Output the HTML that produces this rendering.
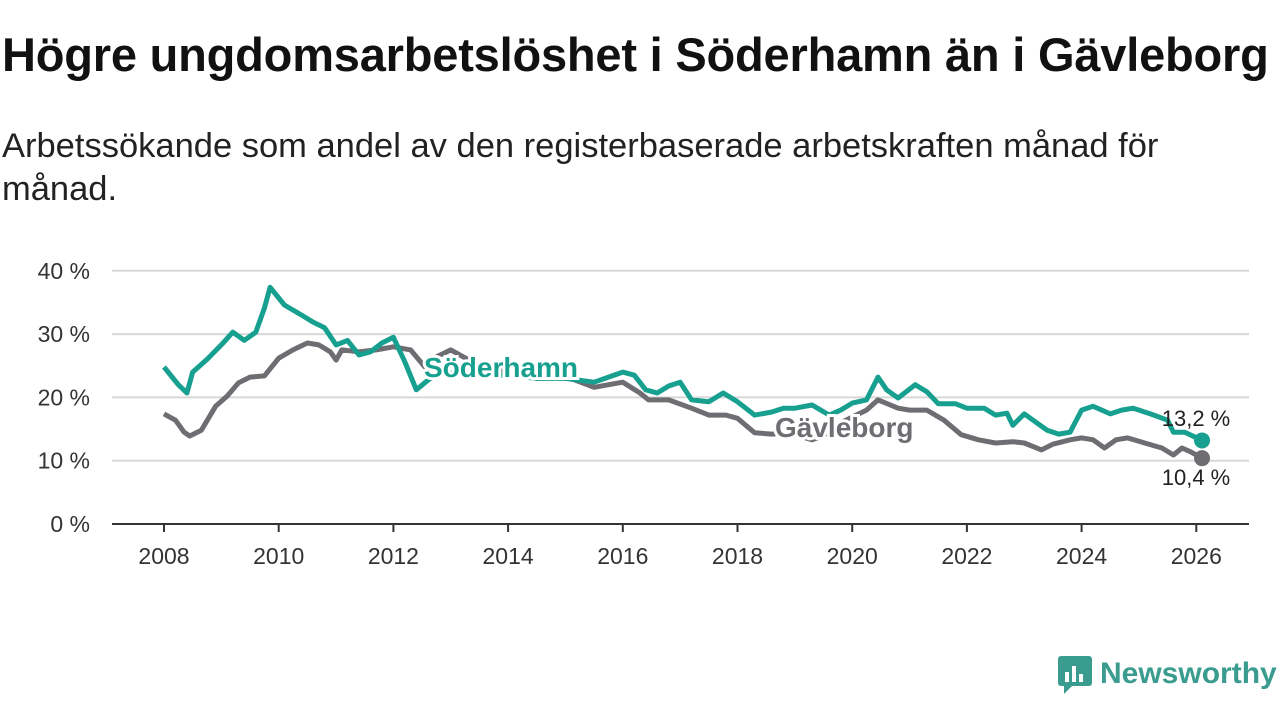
<!DOCTYPE html>
<html><head><meta charset="utf-8"><style>
body{margin:0;width:1280px;height:720px;background:#fff;font-family:"Liberation Sans","DejaVu Sans",sans-serif;overflow:hidden;position:relative}
h1{position:absolute;left:2px;top:27px;margin:0;font-size:47px;font-weight:bold;color:#111;letter-spacing:-0.2px;white-space:nowrap}
.sub{position:absolute;left:2px;top:125px;margin:0;font-size:34.5px;line-height:43px;color:#222;width:1200px}
svg{position:absolute;left:0;top:0}
.logo{position:absolute;left:1058px;top:654px;display:flex;align-items:center;color:#3a9c8f;font-size:30px;font-weight:bold}
</style></head><body>
<h1>Högre ungdomsarbetslöshet i Söderhamn än i Gävleborg</h1>
<p class="sub">Arbetssökande som andel av den registerbaserade arbetskraften månad för månad.</p>
<svg id="chart" width="1280" height="720"></svg>
<div class="logo"><svg width="36" height="40" viewBox="0 0 36 40" style="position:static;margin-right:6px"><rect x="0" y="2" width="34" height="30" rx="3" fill="#3a9c8f"/><polygon points="6,32 14,32 6,40" fill="#3a9c8f"/><rect x="7" y="18" width="4" height="10" fill="#fff"/><rect x="14" y="12" width="4" height="16" fill="#fff"/><rect x="21" y="20" width="4" height="8" fill="#fff"/></svg>Newsworthy</div>
<script>
const sodT=[2008.0,2008.25,2008.4,2008.5,2008.75,2009.0,2009.2,2009.4,2009.6,2009.75,2009.85,2010.1,2010.4,2010.6,2010.8,2011.0,2011.2,2011.4,2011.6,2011.8,2012.0,2012.2,2012.4,2012.6,2012.8,2013.5,2014.0,2014.5,2015.0,2015.5,2016.0,2016.2,2016.4,2016.6,2016.8,2017.0,2017.2,2017.5,2017.75,2018.0,2018.3,2018.6,2018.8,2019.0,2019.3,2019.6,2019.8,2020.0,2020.25,2020.45,2020.6,2020.8,2021.1,2021.3,2021.5,2021.8,2022.0,2022.3,2022.5,2022.7,2022.8,2023.0,2023.4,2023.6,2023.8,2024.0,2024.2,2024.5,2024.7,2024.9,2025.2,2025.5,2025.6,2025.8,2026.1];
const sodV=[24.8,22,20.7,24,26,28.3,30.3,29,30.3,34.1,37.4,34.6,33,31.9,31,28.3,29,26.7,27.2,28.6,29.5,25.6,21.2,22.7,24,23.5,23.5,23,23,22.4,24,23.5,21.2,20.7,21.8,22.4,19.6,19.3,20.7,19.3,17.2,17.7,18.3,18.3,18.8,17.2,18,19.1,19.6,23.2,21.2,19.9,22,20.9,19,19,18.3,18.3,17.2,17.5,15.6,17.4,14.8,14.2,14.5,18,18.6,17.4,18,18.3,17.4,16.4,14.5,14.5,13.2];
const gavT=[2008.0,2008.2,2008.35,2008.45,2008.65,2008.9,2009.1,2009.3,2009.5,2009.75,2010.0,2010.25,2010.5,2010.7,2010.9,2011.0,2011.1,2011.4,2011.7,2012.0,2012.3,2012.55,2012.7,2013.0,2013.5,2014.0,2014.5,2015.0,2015.5,2016.0,2016.3,2016.45,2016.8,2017.2,2017.5,2017.8,2018.0,2018.3,2018.6,2018.9,2019.3,2019.5,2019.8,2020.25,2020.45,2020.8,2021.0,2021.3,2021.6,2021.9,2022.2,2022.5,2022.8,2023.0,2023.3,2023.5,2023.8,2024.0,2024.2,2024.4,2024.6,2024.8,2025.1,2025.4,2025.6,2025.75,2025.9,2026.1];
const gavV=[17.4,16.4,14.5,13.9,14.8,18.6,20.2,22.3,23.2,23.4,26.2,27.5,28.6,28.3,27.2,25.9,27.5,27.2,27.5,28,27.5,24.8,26.2,27.5,25,24,23,23.3,21.6,22.4,20.7,19.6,19.6,18.3,17.2,17.2,16.7,14.4,14.2,14.4,13.3,14,16,18,19.6,18.3,18,18,16.4,14.1,13.3,12.8,13,12.8,11.7,12.6,13.3,13.6,13.3,12,13.3,13.6,12.8,12,10.9,12,11.4,10.4];
const yTicks=[0,10,20,30,40];
const xTicks=[2008,2010,2012,2014,2016,2018,2020,2022,2024,2026];
const X=t=>164+(t-2008)*57.35;
const Y=v=>524-v*6.33;
const NS='http://www.w3.org/2000/svg';
const svg=document.getElementById('chart');
function mk(tag,attrs){const e=document.createElementNS(NS,tag);for(const k in attrs)e.setAttribute(k,attrs[k]);svg.appendChild(e);return e;}
yTicks.forEach(v=>{
  if(v>0){const g=mk('line',{x1:112,x2:1249,y1:Y(v),y2:Y(v),stroke:'#d8d8d8','stroke-width':2});
  
  }
  const t=mk('text',{x:90,y:Y(v)+8,'text-anchor':'end','font-size':23,fill:'#333'});t.textContent=v+' %';
  
  
});
const ax=mk('line',{x1:112,x2:1249,y1:524,y2:524,stroke:'#333','stroke-width':2});


xTicks.forEach(y=>{
  const l=mk('line',{x1:X(y),x2:X(y),y1:524,y2:532,stroke:'#333','stroke-width':2});
  
  
  const t=mk('text',{x:X(y),y:564,'text-anchor':'middle','font-size':23,fill:'#333'});t.textContent=y;
  
  
});
function line(T,V,c,name){
  const d=T.map((t,i)=>(i?'L':'M')+X(t).toFixed(1)+','+Y(V[i]).toFixed(1)).join('');
  const p=mk('path',{d:d,fill:'none',stroke:c,'stroke-width':5,'stroke-linejoin':'round'});
  
  
  const n=T.length-1;
  const cc=mk('circle',{cx:X(T[n]),cy:Y(V[n]),r:8,fill:c});
  
  
}
line(gavT,gavV,'#6e6d72','gavleborg');
line(sodT,sodV,'#17a08f','soderhamn');
function lbl(x,y,txt,c,name,size,bold,anchor){
  const t=mk('text',{x:x,y:y,'font-size':size,'font-weight':bold?'bold':'normal',fill:c,stroke:'#fff','stroke-width':bold?6:0,'paint-order':'stroke','text-anchor':anchor||'start'});
  t.textContent=txt;
  
  
}
lbl(424,377,'Söderhamn','#17a08f','soderhamn-label',28,true);
lbl(775,437,'Gävleborg','#6e6d72','gavleborg-label',28,true);
const ls=sodV.length-1, lg=gavV.length-1;
lbl(1196,426,sodV[ls].toString().replace('.',',')+' %','#222','soderhamn-value-label',22,false,'middle');
lbl(1196,485,gavV[lg].toString().replace('.',',')+' %','#222','gavleborg-value-label',22,false,'middle');
</script>
</body></html>
